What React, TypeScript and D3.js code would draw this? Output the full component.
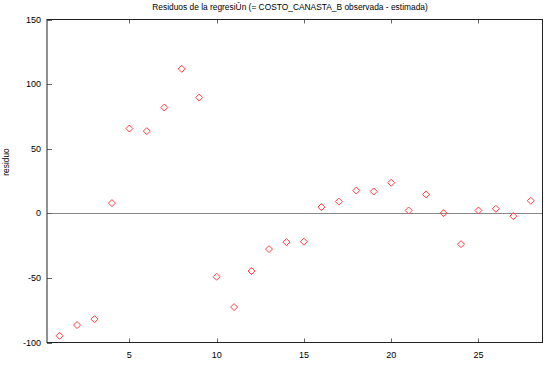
import React, { useEffect, useRef } from 'react'
import * as d3 from 'd3'

const obs = d3.range(1, 29)
const residuo = [
  -94.8, -86.5, -81.9, 7.9, 65.6, 63.6, 81.9, 111.8, 89.6, -49.1,
  -72.6, -44.7, -27.7, -22.3, -22.0, 4.8, 9.1, 17.6, 16.9, 23.6,
  2.2, 14.6, 0.1, -23.9, 2.2, 3.5, -2.2, 9.7,
]
const xTicks = [5, 10, 15, 20, 25]
const yTicks = [-100, -50, 0, 50, 100, 150]
const title = 'Residuos de la regresiÛn (= COSTO_CANASTA_B observada - estimada)'

const W = 552
const H = 366
const m = { top: 19.5, right: 9.5, bottom: 23.5, left: 47 }

export default function App() {
  const ref = useRef<SVGSVGElement>(null)

  useEffect(() => {
    const svg = d3.select(ref.current)
    svg.selectAll('*').remove()
    const font = 'Liberation Sans, Arial, sans-serif'

    const x = d3.scaleLinear().domain([0.28, 28.67]).range([m.left, W - m.right])
    const y = d3.scaleLinear().domain([-100, 150]).range([H - m.bottom, m.top])

    svg.append('rect').attr('width', W).attr('height', H).attr('fill', '#fff')

    // linea del cero
    svg.append('line')
      .attr('x1', m.left).attr('x2', W - m.right)
      .attr('y1', Math.round(y(0)) + 0.5).attr('y2', Math.round(y(0)) + 0.5)
      .attr('stroke', '#888').attr('stroke-width', 1)

    // ticks
    const g = svg.append('g').attr('stroke', '#666').attr('stroke-width', 1)
    yTicks.forEach(t => {
      const yy = Math.round(y(t)) + 0.5
      g.append('line').attr('x1', m.left).attr('x2', m.left + 5).attr('y1', yy).attr('y2', yy)
    })
    xTicks.forEach(t => {
      const xx = Math.round(x(t)) + 0.5
      g.append('line').attr('x1', xx).attr('x2', xx).attr('y1', H - m.bottom).attr('y2', H - m.bottom - 4)
      g.append('line').attr('x1', xx).attr('x2', xx).attr('y1', m.top).attr('y2', m.top + 4)
    })

    // marco
    svg.append('rect')
      .attr('x', m.left).attr('y', m.top)
      .attr('width', W - m.left - m.right).attr('height', H - m.top - m.bottom)
      .attr('fill', 'none').attr('stroke', '#222').attr('stroke-width', 1)

    // etiquetas
    svg.append('g').selectAll('text').data(yTicks).enter().append('text')
      .attr('x', 41).attr('y', d => y(d)).attr('dy', '0.35em')
      .attr('text-anchor', 'end').attr('font-family', font).attr('font-size', 9)
      .text(d => d)
    svg.append('g').selectAll('text').data(xTicks).enter().append('text')
      .attr('x', d => x(d)).attr('y', 358)
      .attr('text-anchor', 'middle').attr('font-family', font).attr('font-size', 9)
      .text(d => d)

    svg.append('text')
      .attr('x', 290).attr('y', 10)
      .attr('text-anchor', 'middle').attr('font-family', font).attr('font-size', 8.4)
      .text(title)
    svg.append('text')
      .attr('transform', 'translate(9,162) rotate(-90)')
      .attr('text-anchor', 'middle').attr('font-family', font).attr('font-size', 8.4)
      .text('residuo')

    // rombos
    const r = 3.5
    svg.append('g').selectAll('path').data(obs).enter().append('path')
      .attr('d', (d, i) => {
        const cx = x(d), cy = y(residuo[i])
        return `M${cx},${cy - r}L${cx + r},${cy}L${cx},${cy + r}L${cx - r},${cy}Z`
      })
      .attr('fill', 'none').attr('stroke', '#ff4040').attr('stroke-width', 1)
  }, [])

  return (
    <div style={{ position: 'absolute', left: 0, top: 0 }}>
      <svg ref={ref} width={W} height={H} style={{ display: 'block' }} />
    </div>
  )
}
